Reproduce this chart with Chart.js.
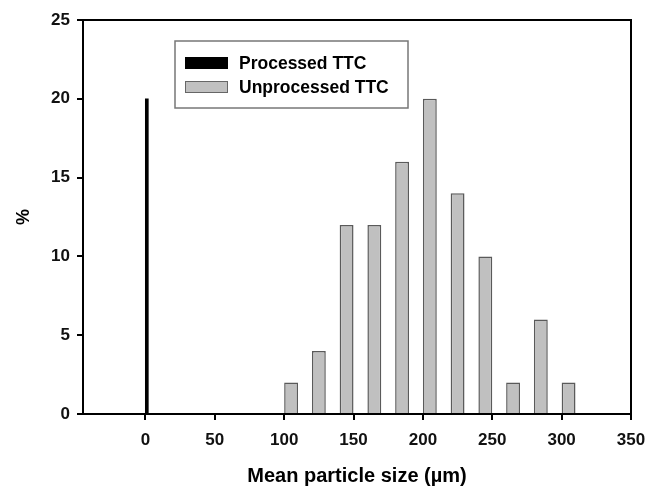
<!DOCTYPE html>
<html>
<head>
<meta charset="utf-8">
<script src="https://cdn.jsdelivr.net/npm/chart.js@4/dist/chart.umd.min.js"></script>
<style>
  html, body { margin: 0; padding: 0; background: #fff; }
  #wrap { width: 649px; height: 488px; }
</style>
</head>
<body>
<div id="wrap"><canvas id="myChart" width="649" height="488"></canvas></div>
<script>
// particle size bins (µm, bar centres) and % values
const unprocessedSizes = [105, 125, 145, 165, 185, 205, 225, 245, 265, 285, 305];
const unprocessedPct = [2, 4, 12, 12, 16, 20, 14, 10, 2, 6, 2];
const processedSizes = [1];
const processedPct = [20];
const xTickValues = [0, 50, 100, 150, 200, 250, 300, 350];
const legendLabels = ['Processed TTC', 'Unprocessed TTC'];

const FONT = '"Liberation Sans", Arial, sans-serif';

function toPoints(xs, ys) {
  return xs.map((x, i) => ({ x: x, y: ys[i] }));
}

// frame + legend box inside the plot
const framePlugin = {
  id: 'frame',
  afterDraw(chart) {
    const { ctx, chartArea: a } = chart;
    ctx.save();
    ctx.strokeStyle = '#000';
    ctx.lineWidth = 2;
    ctx.beginPath();
    ctx.moveTo(a.left, a.top);
    ctx.lineTo(a.right, a.top);
    ctx.lineTo(a.right, a.bottom);
    ctx.stroke();

    // legend
    const bx = 175, by = 41, bw = 233, bh = 67;
    ctx.fillStyle = '#fff';
    ctx.fillRect(bx, by, bw, bh);
    ctx.strokeStyle = '#777';
    ctx.lineWidth = 1.5;
    ctx.strokeRect(bx, by, bw, bh);
    const ds = chart.data.datasets;
    const rows = [63, 87];
    ctx.font = 'bold 17.5px ' + FONT;
    ctx.textBaseline = 'middle';
    rows.forEach((ry, i) => {
      ctx.fillStyle = ds[i].backgroundColor;
      ctx.fillRect(185, ry - 6, 43, 12);
      ctx.strokeStyle = i === 0 ? '#000' : '#666';
      ctx.lineWidth = 1;
      ctx.strokeRect(185.5, ry - 5.5, 42, 11);
      ctx.fillStyle = '#000';
      ctx.fillText(legendLabels[i], 239, ry + 1);
    });
    ctx.restore();
  }
};

const ctx = document.getElementById('myChart').getContext('2d');
const myChart = new Chart(ctx, {
  type: 'bar',
  data: {
    datasets: [{
      label: legendLabels[0],
      data: toPoints(processedSizes, processedPct),
      backgroundColor: '#000',
      borderColor: '#000',
      borderWidth: 0,
      barThickness: 3,
      grouped: false
    }, {
      label: legendLabels[1],
      data: toPoints(unprocessedSizes, unprocessedPct),
      backgroundColor: '#c0c0c0',
      borderColor: '#5a5a5a',
      borderWidth: 1.5,
      barPercentage: 0.5,
      categoryPercentage: 1.0,
      grouped: false
    }]
  },
  options: {
    responsive: false,
    animation: false,
    layout: { padding: { top: 20, right: 18, left: 0, bottom: 0 } },
    plugins: {
      legend: { display: false },
      tooltip: { enabled: false }
    },
    scales: {
      x: {
        type: 'linear',
        min: -45,
        max: 350,
        offset: false,
        afterBuildTicks(scale) {
          scale.ticks = xTickValues.map(v => ({ value: v }));
        },
        afterFit(scale) {
          scale.height = 74;
          scale.paddingRight = 0;
          scale.paddingLeft = 0;
        },
        grid: { offset: false, drawOnChartArea: false, drawTicks: true, tickLength: 6, color: '#000', lineWidth: 2 },
        border: { color: '#000', width: 2 },
        ticks: {
          color: '#111',
          padding: 10,
          maxRotation: 0,
          font: { family: FONT, size: 17, weight: 'bold' }
        },
        title: {
          display: true,
          text: 'Mean particle size (\u00b5m)',
          color: '#000',
          padding: { top: 8, bottom: 0 },
          font: { family: FONT, size: 20, weight: 'bold' }
        }
      },
      y: {
        min: 0,
        max: 25,
        afterFit(scale) { scale.width = 83; },
        grid: { drawOnChartArea: false, drawTicks: true, tickLength: 6, color: '#000', lineWidth: 2 },
        border: { color: '#000', width: 2 },
        ticks: {
          stepSize: 5,
          color: '#111',
          padding: 7,
          font: { family: FONT, size: 17, weight: 'bold' }
        },
        title: {
          display: true,
          text: '%',
          color: '#000',
          padding: { top: 13, bottom: 0 },
          font: { family: FONT, size: 18, weight: 'bold' }
        }
      }
    }
  },
  plugins: [framePlugin]
});
</script>
</body>
</html>
